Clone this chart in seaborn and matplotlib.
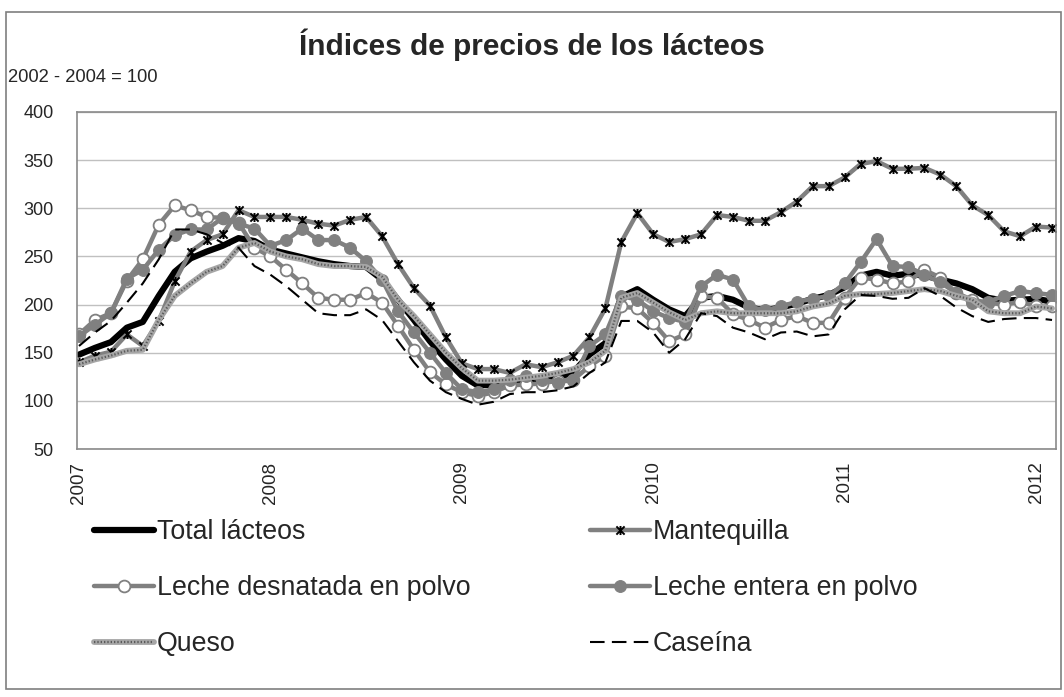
import numpy as np
import matplotlib
matplotlib.use("Agg")
import matplotlib.pyplot as plt
import matplotlib.transforms as mtrans
from matplotlib.path import Path
from matplotlib.patches import Rectangle
from matplotlib.legend_handler import HandlerTuple
import seaborn as sns

# monthly index values, Jan 2007 .. Feb 2012
months = list(range(62))
year_ticks = [0, 12, 24, 36, 48, 60]
year_labels = ["2007", "2008", "2009", "2010", "2011", "2012"]

total = [148, 155, 161, 176, 182, 209, 234, 248, 255, 261, 269, 266, 257, 253, 249, 245,
         242, 240, 239, 226, 205, 184, 162, 143, 126, 116, 117, 118, 120, 121, 124, 130,
         148, 160, 208, 216, 205, 195, 188, 207, 209, 205, 197, 194, 197, 201, 206, 210,
         218, 230, 234, 230, 232, 230, 226, 222, 216, 207, 204, 205, 206, 203]
mantequilla = [140, 147, 151, 169, 157, 183, 224, 255, 267, 273, 298, 291, 291, 291, 288, 284,
               282, 288, 291, 271, 242, 217, 199, 166, 139, 133, 133, 129, 138, 135, 140, 147,
               166, 196, 265, 295, 273, 265, 268, 273, 293, 291, 287, 287, 296, 307, 323, 323,
               332, 346, 349, 341, 341, 342, 335, 323, 303, 293, 276, 271, 281, 280]
desnatada = [169, 184, 191, 225, 247, 283, 303, 298, 291, 290, 285, 259, 250, 236, 222, 207,
             205, 205, 212, 202, 178, 153, 130, 117, 109, 105, 109, 116, 117, 118, 121, 122,
             136, 147, 198, 196, 181, 162, 169, 209, 207, 190, 184, 176, 184, 188, 181, 181,
             207, 228, 226, 222, 224, 236, 228, 212, 205, 202, 200, 203, 198, 198]
entera = [167, 179, 191, 227, 236, 257, 272, 278, 278, 290, 284, 279, 261, 267, 279, 267,
          267, 259, 245, 226, 193, 171, 150, 129, 112, 109, 112, 122, 126, 122, 119, 122,
          157, 169, 209, 205, 193, 186, 182, 219, 231, 226, 198, 194, 198, 203, 206, 209,
          222, 244, 268, 240, 239, 231, 223, 212, 202, 203, 209, 214, 212, 210]
queso = [138, 143, 147, 152, 153, 184, 209, 222, 234, 240, 259, 264, 255, 250, 247, 242,
         240, 240, 239, 229, 205, 188, 169, 150, 134, 121, 121, 122, 124, 126, 129, 133,
         140, 152, 207, 212, 202, 192, 184, 191, 193, 191, 191, 191, 191, 193, 198, 201,
         209, 211, 211, 212, 214, 216, 214, 209, 205, 193, 191, 191, 198, 196]
caseina = [157, 171, 183, 202, 222, 247, 278, 278, 273, 264, 259, 240, 231, 219, 205, 191,
           189, 189, 195, 184, 162, 140, 121, 109, 102, 96, 99, 107, 109, 109, 111, 115,
           129, 140, 183, 183, 171, 150, 164, 191, 188, 176, 171, 164, 171, 172, 167, 169,
           195, 210, 209, 206, 207, 217, 209, 197, 188, 182, 185, 186, 186, 184]

sns.set_style("white")
plt.rcParams["font.family"] = ["Liberation Sans", "DejaVu Sans"]

GRAY = "#808080"
star = Path([(-1, -1), (1, 1), (-1, 1), (1, -1), (0, -1.1), (0, 1.1)],
            [Path.MOVETO, Path.LINETO, Path.MOVETO, Path.LINETO, Path.MOVETO, Path.LINETO])

fig = plt.figure(figsize=(10.64, 6.97), dpi=100)
ax = fig.add_axes([77 / 1064, 1 - 449 / 697, (1056 - 77) / 1064, (449 - 112) / 697])

sns.lineplot(x=months, y=total, ax=ax, color="black", linewidth=4.5, label="Total lácteos")
sns.lineplot(x=months, y=mantequilla, ax=ax, color=GRAY, linewidth=3.2, marker=star,
             markersize=6.5, markeredgecolor="black", markeredgewidth=1.4, label="Mantequilla")
sns.lineplot(x=months, y=desnatada, ax=ax, color=GRAY, linewidth=3.2, marker="o",
             markersize=8.5, markerfacecolor="white", markeredgecolor=GRAY, markeredgewidth=1.3,
             label="Leche desnatada en polvo")
sns.lineplot(x=months, y=entera, ax=ax, color=GRAY, linewidth=3.2, marker="o",
             markersize=8.5, markerfacecolor=GRAY, markeredgecolor=GRAY,
             label="Leche entera en polvo")
sns.lineplot(x=months, y=queso, ax=ax, color="#a6a6a6", linewidth=4.2, label="Queso")
sns.lineplot(x=months, y=queso, ax=ax, color="#5a5a5a", linewidth=1.6,
             linestyle=(0, (0.6, 0.9)), label="_queso_tex")
sns.lineplot(x=months, y=caseina, ax=ax, color="black", linewidth=1.5,
             linestyle=(0, (7, 3.5)), label="Caseína")

ax.set_xlim(-0.125, 61.25)
ax.set_ylim(50, 400)
ax.set_yticks(range(50, 401, 50))
ax.set_xticks(year_ticks)
ax.set_xticklabels(year_labels, rotation=90)
offset = mtrans.ScaledTranslation(5 / 100, 0, fig.dpi_scale_trans)
for lab in ax.get_xticklabels():
    lab.set_transform(lab.get_transform() + offset)
ax.tick_params(axis="y", length=0, pad=17, labelsize=13)
ax.tick_params(axis="x", length=0, pad=9, labelsize=13.5)
ax.grid(axis="y", color="#c0c0c0", linewidth=1)
ax.set_axisbelow(True)
for sp in ax.spines.values():
    sp.set_color("#8a8a8a")
    sp.set_linewidth(1.2)
ax.set_xlabel("")
ax.set_ylabel("")

h, l = ax.get_legend_handles_labels()
hd = dict(zip(l, h))
ax.get_legend().remove()
queso_h = (hd["Queso"], [x for x in ax.get_lines() if x.get_label() == "_queso_tex"][0])
handles = [hd["Total lácteos"], hd["Leche desnatada en polvo"], queso_h,
           hd["Mantequilla"], hd["Leche entera en polvo"], hd["Caseína"]]
labels = ["Total lácteos", "Leche desnatada en polvo", "Queso",
          "Mantequilla", "Leche entera en polvo", "Caseína"]
fig.legend(handles, labels, ncol=2, loc="upper left", bbox_to_anchor=(94 / 1064, 1 - 519 / 697),
           frameon=False, fontsize=19.3, handlelength=2.25, handletextpad=0.1,
           columnspacing=4.45, labelspacing=1.12, borderpad=0, borderaxespad=0,
           handler_map={tuple: HandlerTuple(ndivide=1, pad=0)})

fig.text(0.5, 1 - 45 / 697, "Índices de precios de los lácteos", ha="center", va="center",
         fontsize=21.5, fontweight="bold")
fig.text(8 / 1064, 1 - 77 / 697, "2002 - 2004 = 100", ha="left", va="center", fontsize=13.2)
fig.add_artist(Rectangle((6 / 1064, 8 / 697), 1055 / 1064, 677 / 697, transform=fig.transFigure,
                         fill=False, edgecolor="#7f7f7f", linewidth=1.2))

fig.savefig("out.png", dpi=100)
